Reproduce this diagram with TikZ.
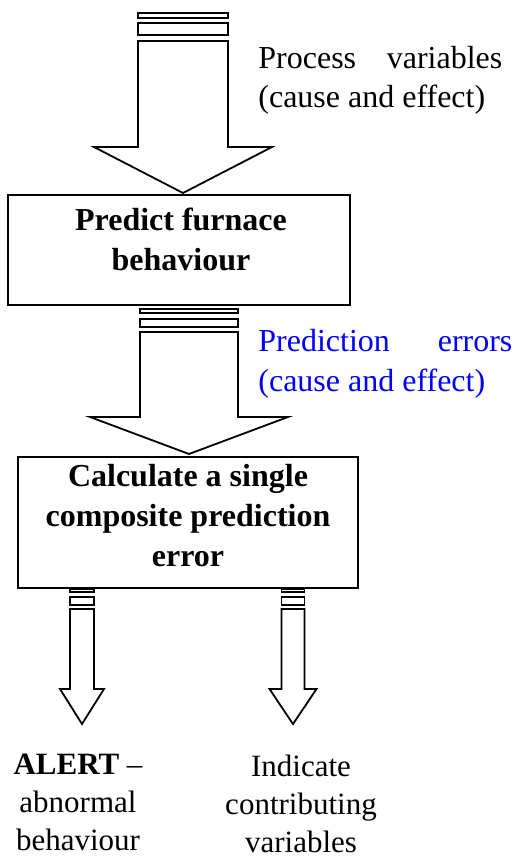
\documentclass[tikz,border=0pt]{standalone}
\usepackage{fontspec}
\setmainfont{Liberation Serif}
\definecolor{errblue}{RGB}{0,0,255}
\tikzset{
  procbox/.style={draw, line width=0.9pt, inner sep=0pt},
  boxtext/.style={font=\fontsize{16}{20}\selectfont\bfseries, align=center, inner sep=0pt},
  sidetext/.style={font=\fontsize{16}{20}\selectfont, align=left, inner sep=0pt},
  outtext/.style={font=\fontsize{15.5}{19}\selectfont, align=center, inner sep=0pt},
  fatarrow/.style={draw, line width=0.9pt, fill=white, line join=miter},
  stripe/.style={draw, line width=0.8pt, fill=white}
}
\begin{document}
\begin{tikzpicture}[x=0.5pt, y=-0.5pt]
    \useasboundingbox (0,0) rectangle (516,856);

    % process boxes
    \node[procbox, minimum width=171pt, minimum height=55pt] (predict) at (179,250) {};
    \node[procbox, minimum width=170pt, minimum height=65.5pt] (composite) at (188,522.5) {};

    % base anchor sits on the last line
    \node[boxtext, anchor=base] (predicttxt) at (181,270) {Predict furnace\\behaviour};
    \node[boxtext, anchor=base] (compositetxt) at (188,566) {Calculate a single\\composite prediction\\error};

    % block arrows: centre/half width/wing/stripes/body/shaft end/tip
    \foreach \cx/\hw/\ww/\ya/\yb/\yc/\yd/\ye/\yf/\yg in {
        183/45/89/13/18/23/35/41/147/193,
        189/49/99/309/313/319/327/332/417/454,
        82/12/22/589/592/597/605/609/689/724,
        293/11.5/23.5/589/592/597/605/609/689/724}
    {
        \draw[stripe] (\cx-\hw,\ya) rectangle (\cx+\hw,\yb);
        \draw[stripe] (\cx-\hw,\yc) rectangle (\cx+\hw,\yd);
        \draw[fatarrow] (\cx-\hw,\ye) -- (\cx-\hw,\yf) -- (\cx-\ww,\yf) -- (\cx,\yg)
            -- (\cx+\ww,\yf) -- (\cx+\hw,\yf) -- (\cx+\hw,\ye) -- cycle;
    }

    % arrow labels
    \node[sidetext, anchor=base west] (invars) at (258,108)
        {\makebox[122pt][l]{Process\hfill variables}\\(cause and effect)};
    \node[sidetext, anchor=base west, text=errblue] (errvars) at (258,391)
        {\makebox[127pt][l]{Prediction\hfill errors}\\(cause and effect)};

    % outputs
    \node[outtext, anchor=base] (alert) at (78,850)
        {\textbf{ALERT} --\\abnormal\\behaviour};
    \node[outtext, anchor=base] (contrib) at (301,852)
        {Indicate\\contributing\\variables};
\end{tikzpicture}
\end{document}
